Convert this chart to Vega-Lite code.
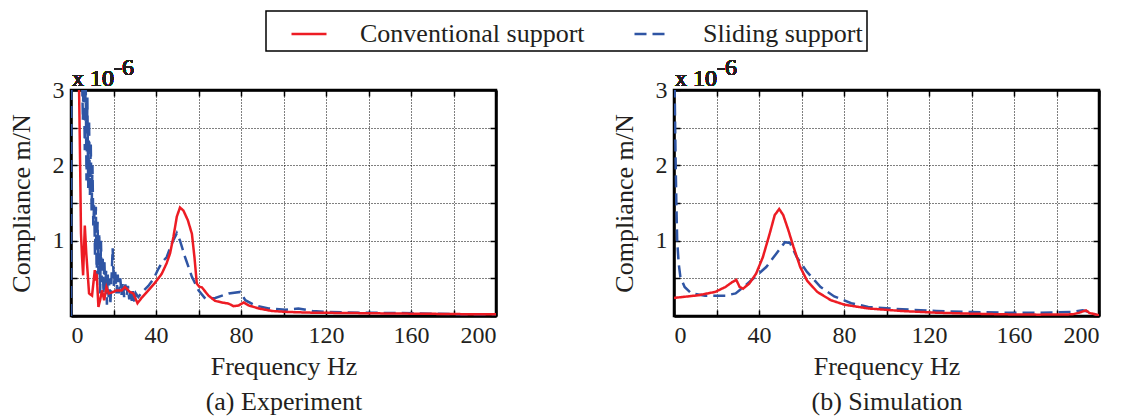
{
  "$schema": "https://vega.github.io/schema/vega-lite/v6.json",
  "background": "white",
  "autosize": {"type": "pad"},
  "padding": {"left": 6, "top": 10, "right": 0, "bottom": 0},
  "config": {
    "font": "Liberation Serif",
    "view": {"stroke": "black", "strokeWidth": 2.5},
    "concat": {"spacing": 111},
    "style": {
      "guide-label": {"font": "Liberation Serif", "fontWeight": "normal"},
      "guide-title": {"font": "Liberation Serif", "fontWeight": "normal"}
    },
    "axis": {
      "labelFont": "Liberation Serif", "labelFontSize": 24, "labelColor": "#231f20",
      "titleFont": "Liberation Serif", "titleFontSize": 26, "titleFontWeight": "normal", "titleColor": "#231f20",
      "gridColor": "black", "gridDash": [1, 2], "gridWidth": 1, "gridOpacity": 1,
      "domainColor": "black", "domainWidth": 2.5,
      "tickColor": "black", "tickWidth": 1.5, "tickSize": -6, "labelPadding": 13
    },
    "legend": {
      "orient": "none", "legendX": 195, "legendY": -79, "direction": "horizontal",
      "strokeColor": "black", "strokeWidth": 1.5, "padding": 4, "fillColor": "white",
      "symbolType": "stroke", "symbolSize": 1225, "symbolStrokeWidth": 2.5, "symbolOffset": 20,
      "labelFont": "Liberation Serif", "labelFontSize": 26, "labelColor": "#231f20", "labelLimit": 500,
      "labelOffset": 32, "columnPadding": 28, "title": null
    }
  },
  "datasets": {
    "exp": [
      {"f": 0, "v": 0, "s": "Sliding support"},
      {"f": 0.2, "v": 3.5, "s": "Sliding support"},
      {"f": 5.0, "v": 3.5, "s": "Sliding support"},
      {"f": 5.6, "v": 2.6, "s": "Sliding support"},
      {"f": 6.0, "v": 3.4, "s": "Sliding support"},
      {"f": 6.5, "v": 2.2, "s": "Sliding support"},
      {"f": 6.9, "v": 3.2, "s": "Sliding support"},
      {"f": 7.3, "v": 1.8, "s": "Sliding support"},
      {"f": 7.7, "v": 2.9, "s": "Sliding support"},
      {"f": 8.1, "v": 1.7, "s": "Sliding support"},
      {"f": 8.5, "v": 2.6, "s": "Sliding support"},
      {"f": 8.9, "v": 1.6, "s": "Sliding support"},
      {"f": 9.3, "v": 2.3, "s": "Sliding support"},
      {"f": 9.7, "v": 1.4, "s": "Sliding support"},
      {"f": 10.1, "v": 2.0, "s": "Sliding support"},
      {"f": 10.5, "v": 1.2, "s": "Sliding support"},
      {"f": 10.9, "v": 1.5, "s": "Sliding support"},
      {"f": 11.3, "v": 0.8, "s": "Sliding support"},
      {"f": 11.7, "v": 1.45, "s": "Sliding support"},
      {"f": 12.1, "v": 0.5, "s": "Sliding support"},
      {"f": 12.5, "v": 1.25, "s": "Sliding support"},
      {"f": 12.9, "v": 0.55, "s": "Sliding support"},
      {"f": 13.3, "v": 1.1, "s": "Sliding support"},
      {"f": 13.7, "v": 0.3, "s": "Sliding support"},
      {"f": 14.1, "v": 1.0, "s": "Sliding support"},
      {"f": 14.5, "v": 0.45, "s": "Sliding support"},
      {"f": 14.9, "v": 0.8, "s": "Sliding support"},
      {"f": 15.3, "v": 0.3, "s": "Sliding support"},
      {"f": 15.7, "v": 0.75, "s": "Sliding support"},
      {"f": 16.1, "v": 0.35, "s": "Sliding support"},
      {"f": 16.5, "v": 0.6, "s": "Sliding support"},
      {"f": 16.9, "v": 0.15, "s": "Sliding support"},
      {"f": 17.3, "v": 0.55, "s": "Sliding support"},
      {"f": 17.7, "v": 0.25, "s": "Sliding support"},
      {"f": 18.1, "v": 0.5, "s": "Sliding support"},
      {"f": 18.5, "v": 0.15, "s": "Sliding support"},
      {"f": 19.0, "v": 0.45, "s": "Sliding support"},
      {"f": 19.6, "v": 0.9, "s": "Sliding support"},
      {"f": 20.2, "v": 0.4, "s": "Sliding support"},
      {"f": 20.8, "v": 0.6, "s": "Sliding support"},
      {"f": 21.4, "v": 0.3, "s": "Sliding support"},
      {"f": 22.0, "v": 0.55, "s": "Sliding support"},
      {"f": 22.6, "v": 0.3, "s": "Sliding support"},
      {"f": 23.2, "v": 0.5, "s": "Sliding support"},
      {"f": 23.8, "v": 0.28, "s": "Sliding support"},
      {"f": 24.4, "v": 0.45, "s": "Sliding support"},
      {"f": 25.0, "v": 0.25, "s": "Sliding support"},
      {"f": 25.6, "v": 0.42, "s": "Sliding support"},
      {"f": 26.2, "v": 0.27, "s": "Sliding support"},
      {"f": 26.8, "v": 0.4, "s": "Sliding support"},
      {"f": 27.4, "v": 0.22, "s": "Sliding support"},
      {"f": 28.0, "v": 0.36, "s": "Sliding support"},
      {"f": 28.6, "v": 0.2, "s": "Sliding support"},
      {"f": 29.2, "v": 0.33, "s": "Sliding support"},
      {"f": 29.8, "v": 0.18, "s": "Sliding support"},
      {"f": 30.5, "v": 0.3, "s": "Sliding support"},
      {"f": 31.7, "v": 0.25, "s": "Sliding support"},
      {"f": 33.5, "v": 0.32, "s": "Sliding support"},
      {"f": 36.4, "v": 0.4, "s": "Sliding support"},
      {"f": 39.0, "v": 0.5, "s": "Sliding support"},
      {"f": 41.0, "v": 0.62, "s": "Sliding support"},
      {"f": 43.0, "v": 0.72, "s": "Sliding support"},
      {"f": 45.0, "v": 0.78, "s": "Sliding support"},
      {"f": 47.4, "v": 0.96, "s": "Sliding support"},
      {"f": 49.8, "v": 1.1, "s": "Sliding support"},
      {"f": 51.3, "v": 1.0, "s": "Sliding support"},
      {"f": 53.7, "v": 0.78, "s": "Sliding support"},
      {"f": 56.9, "v": 0.52, "s": "Sliding support"},
      {"f": 60.0, "v": 0.34, "s": "Sliding support"},
      {"f": 63.2, "v": 0.23, "s": "Sliding support"},
      {"f": 67.9, "v": 0.24, "s": "Sliding support"},
      {"f": 74.2, "v": 0.3, "s": "Sliding support"},
      {"f": 79.7, "v": 0.32, "s": "Sliding support"},
      {"f": 82.0, "v": 0.21, "s": "Sliding support"},
      {"f": 86.8, "v": 0.14, "s": "Sliding support"},
      {"f": 93.0, "v": 0.1, "s": "Sliding support"},
      {"f": 101.0, "v": 0.084, "s": "Sliding support"},
      {"f": 107.0, "v": 0.1, "s": "Sliding support"},
      {"f": 113.6, "v": 0.066, "s": "Sliding support"},
      {"f": 121.0, "v": 0.053, "s": "Sliding support"},
      {"f": 137.0, "v": 0.044, "s": "Sliding support"},
      {"f": 153.0, "v": 0.04, "s": "Sliding support"},
      {"f": 168.7, "v": 0.031, "s": "Sliding support"},
      {"f": 184.0, "v": 0.022, "s": "Sliding support"},
      {"f": 200.0, "v": 0.022, "s": "Sliding support"},
      {"f": 3.0, "v": 3.5, "s": "Conventional support"},
      {"f": 3.8, "v": 3.0, "s": "Conventional support"},
      {"f": 4.3, "v": 2.0, "s": "Conventional support"},
      {"f": 4.7, "v": 1.1, "s": "Conventional support"},
      {"f": 5.2, "v": 0.78, "s": "Conventional support"},
      {"f": 5.7, "v": 0.54, "s": "Conventional support"},
      {"f": 6.5, "v": 1.2, "s": "Conventional support"},
      {"f": 7.2, "v": 0.83, "s": "Conventional support"},
      {"f": 8.5, "v": 0.3, "s": "Conventional support"},
      {"f": 9.9, "v": 0.27, "s": "Conventional support"},
      {"f": 11.2, "v": 0.61, "s": "Conventional support"},
      {"f": 11.7, "v": 0.47, "s": "Conventional support"},
      {"f": 12.1, "v": 0.56, "s": "Conventional support"},
      {"f": 12.9, "v": 0.12, "s": "Conventional support"},
      {"f": 13.7, "v": 0.21, "s": "Conventional support"},
      {"f": 14.6, "v": 0.34, "s": "Conventional support"},
      {"f": 15.6, "v": 0.21, "s": "Conventional support"},
      {"f": 16.7, "v": 0.385, "s": "Conventional support"},
      {"f": 17.8, "v": 0.3, "s": "Conventional support"},
      {"f": 19.1, "v": 0.31, "s": "Conventional support"},
      {"f": 21.4, "v": 0.34, "s": "Conventional support"},
      {"f": 23.8, "v": 0.34, "s": "Conventional support"},
      {"f": 25.4, "v": 0.385, "s": "Conventional support"},
      {"f": 27.7, "v": 0.32, "s": "Conventional support"},
      {"f": 29.3, "v": 0.3, "s": "Conventional support"},
      {"f": 31.3, "v": 0.17, "s": "Conventional support"},
      {"f": 33.2, "v": 0.24, "s": "Conventional support"},
      {"f": 36.4, "v": 0.34, "s": "Conventional support"},
      {"f": 39.5, "v": 0.44, "s": "Conventional support"},
      {"f": 42.7, "v": 0.56, "s": "Conventional support"},
      {"f": 45.0, "v": 0.7, "s": "Conventional support"},
      {"f": 46.6, "v": 0.83, "s": "Conventional support"},
      {"f": 48.2, "v": 1.05, "s": "Conventional support"},
      {"f": 49.8, "v": 1.32, "s": "Conventional support"},
      {"f": 51.3, "v": 1.44, "s": "Conventional support"},
      {"f": 52.9, "v": 1.4, "s": "Conventional support"},
      {"f": 55.0, "v": 1.27, "s": "Conventional support"},
      {"f": 56.9, "v": 1.09, "s": "Conventional support"},
      {"f": 58.1, "v": 0.78, "s": "Conventional support"},
      {"f": 59.2, "v": 0.43, "s": "Conventional support"},
      {"f": 60.3, "v": 0.39, "s": "Conventional support"},
      {"f": 61.6, "v": 0.38, "s": "Conventional support"},
      {"f": 64.7, "v": 0.27, "s": "Conventional support"},
      {"f": 67.9, "v": 0.2, "s": "Conventional support"},
      {"f": 71.0, "v": 0.18, "s": "Conventional support"},
      {"f": 74.2, "v": 0.164, "s": "Conventional support"},
      {"f": 76.5, "v": 0.13, "s": "Conventional support"},
      {"f": 78.9, "v": 0.14, "s": "Conventional support"},
      {"f": 81.3, "v": 0.18, "s": "Conventional support"},
      {"f": 83.6, "v": 0.14, "s": "Conventional support"},
      {"f": 88.4, "v": 0.1, "s": "Conventional support"},
      {"f": 94.7, "v": 0.066, "s": "Conventional support"},
      {"f": 102.5, "v": 0.053, "s": "Conventional support"},
      {"f": 113.6, "v": 0.044, "s": "Conventional support"},
      {"f": 129.3, "v": 0.04, "s": "Conventional support"},
      {"f": 145.0, "v": 0.035, "s": "Conventional support"},
      {"f": 160.8, "v": 0.031, "s": "Conventional support"},
      {"f": 176.6, "v": 0.027, "s": "Conventional support"},
      {"f": 192.3, "v": 0.022, "s": "Conventional support"},
      {"f": 200.0, "v": 0.022, "s": "Conventional support"}
    ],
    "sim": [
      {"f": 0.2, "v": 3.3, "s": "Sliding support"},
      {"f": 0.5, "v": 2.6, "s": "Sliding support"},
      {"f": 0.8, "v": 2.0, "s": "Sliding support"},
      {"f": 1.1, "v": 1.5, "s": "Sliding support"},
      {"f": 1.5, "v": 1.0, "s": "Sliding support"},
      {"f": 2.2, "v": 0.7, "s": "Sliding support"},
      {"f": 3.0, "v": 0.52, "s": "Sliding support"},
      {"f": 5.0, "v": 0.385, "s": "Sliding support"},
      {"f": 8.2, "v": 0.3, "s": "Sliding support"},
      {"f": 14.6, "v": 0.27, "s": "Sliding support"},
      {"f": 24.2, "v": 0.27, "s": "Sliding support"},
      {"f": 29.0, "v": 0.3, "s": "Sliding support"},
      {"f": 33.8, "v": 0.41, "s": "Sliding support"},
      {"f": 38.6, "v": 0.53, "s": "Sliding support"},
      {"f": 43.4, "v": 0.65, "s": "Sliding support"},
      {"f": 48.2, "v": 0.83, "s": "Sliding support"},
      {"f": 52.2, "v": 0.98, "s": "Sliding support"},
      {"f": 54.6, "v": 0.97, "s": "Sliding support"},
      {"f": 57.8, "v": 0.78, "s": "Sliding support"},
      {"f": 62.6, "v": 0.585, "s": "Sliding support"},
      {"f": 69.0, "v": 0.385, "s": "Sliding support"},
      {"f": 75.4, "v": 0.26, "s": "Sliding support"},
      {"f": 83.4, "v": 0.17, "s": "Sliding support"},
      {"f": 91.4, "v": 0.12, "s": "Sliding support"},
      {"f": 107.4, "v": 0.089, "s": "Sliding support"},
      {"f": 123.5, "v": 0.066, "s": "Sliding support"},
      {"f": 139.5, "v": 0.053, "s": "Sliding support"},
      {"f": 155.5, "v": 0.044, "s": "Sliding support"},
      {"f": 171.5, "v": 0.044, "s": "Sliding support"},
      {"f": 187.5, "v": 0.053, "s": "Sliding support"},
      {"f": 192.3, "v": 0.075, "s": "Sliding support"},
      {"f": 195.5, "v": 0.053, "s": "Sliding support"},
      {"f": 200.0, "v": 0.0, "s": "Sliding support"},
      {"f": 0.0, "v": 0.24, "s": "Conventional support"},
      {"f": 11.4, "v": 0.275, "s": "Conventional support"},
      {"f": 19.4, "v": 0.32, "s": "Conventional support"},
      {"f": 24.2, "v": 0.385, "s": "Conventional support"},
      {"f": 27.4, "v": 0.45, "s": "Conventional support"},
      {"f": 29.3, "v": 0.48, "s": "Conventional support"},
      {"f": 30.9, "v": 0.385, "s": "Conventional support"},
      {"f": 32.5, "v": 0.363, "s": "Conventional support"},
      {"f": 35.4, "v": 0.43, "s": "Conventional support"},
      {"f": 38.6, "v": 0.56, "s": "Conventional support"},
      {"f": 41.8, "v": 0.78, "s": "Conventional support"},
      {"f": 45.0, "v": 1.09, "s": "Conventional support"},
      {"f": 47.4, "v": 1.34, "s": "Conventional support"},
      {"f": 49.5, "v": 1.42, "s": "Conventional support"},
      {"f": 51.4, "v": 1.34, "s": "Conventional support"},
      {"f": 53.8, "v": 1.14, "s": "Conventional support"},
      {"f": 56.2, "v": 0.92, "s": "Conventional support"},
      {"f": 59.4, "v": 0.65, "s": "Conventional support"},
      {"f": 62.6, "v": 0.47, "s": "Conventional support"},
      {"f": 67.4, "v": 0.32, "s": "Conventional support"},
      {"f": 73.8, "v": 0.21, "s": "Conventional support"},
      {"f": 80.2, "v": 0.15, "s": "Conventional support"},
      {"f": 91.4, "v": 0.1, "s": "Conventional support"},
      {"f": 107.4, "v": 0.066, "s": "Conventional support"},
      {"f": 123.5, "v": 0.044, "s": "Conventional support"},
      {"f": 139.5, "v": 0.031, "s": "Conventional support"},
      {"f": 155.5, "v": 0.022, "s": "Conventional support"},
      {"f": 171.5, "v": 0.018, "s": "Conventional support"},
      {"f": 187.5, "v": 0.022, "s": "Conventional support"},
      {"f": 190.7, "v": 0.044, "s": "Conventional support"},
      {"f": 193.9, "v": 0.075, "s": "Conventional support"},
      {"f": 195.5, "v": 0.04, "s": "Conventional support"},
      {"f": 200.0, "v": 0.01, "s": "Conventional support"}
    ]
  },
  "hconcat": [
    {
      "width": 425, "height": 226,
      "data": {"name": "exp"},
      "layer": [
        {
          "transform": [{"filter": "datum.s == 'Sliding support'"}],
          "mark": {"type": "line", "clip": true, "strokeWidth": 2.5},
          "encoding": {
            "x": {"field": "f", "type": "quantitative", "scale": {"domain": [0, 200], "nice": false, "zero": false},
              "axis": {"values": [0,20,40,60,80,100,120,140,160,180,200], "labelExpr": "datum.value % 40 == 0 ? datum.label : ''", "title": ["Frequency  Hz", "(a) Experiment"], "titleLineHeight": 35, "grid": true, "titlePadding": 6}},
            "y": {"field": "v", "type": "quantitative", "scale": {"domain": [0, 3], "nice": false, "zero": false},
              "axis": {"values": [0,0.5,1,1.5,2,2.5,3], "labelExpr": "datum.value % 1 == 0 && datum.value > 0 ? format(datum.value, 'd') : ''", "title": "Compliance  m/N", "grid": true, "titlePadding": 18}},
            "color": {"field": "s", "type": "nominal", "scale": {"domain": ["Conventional support", "Sliding support"], "range": ["#ed1c24", "#2f55a4"]}, "legend": {"title": null}},
            "strokeDash": {"field": "s", "type": "nominal", "scale": {"domain": ["Conventional support", "Sliding support"], "range": [[1, 0], [12, 6]]}, "legend": {"title": null}}
          }
        },
        {
          "transform": [{"filter": "datum.s == 'Conventional support'"}],
          "mark": {"type": "line", "clip": true, "strokeWidth": 2.5},
          "encoding": {
            "x": {"field": "f", "type": "quantitative", "scale": {"domain": [0, 200], "nice": false, "zero": false},
              "axis": {"orient": "top", "values": [0,20,40,60,80,100,120,140,160,180,200], "labels": false, "title": null, "grid": false}},
            "y": {"field": "v", "type": "quantitative", "scale": {"domain": [0, 3], "nice": false, "zero": false},
              "axis": {"orient": "right", "values": [0,0.5,1,1.5,2,2.5,3], "labels": false, "title": null, "grid": false}},
            "color": {"field": "s", "type": "nominal", "scale": {"domain": ["Conventional support", "Sliding support"], "range": ["#ed1c24", "#2f55a4"]}, "legend": {"title": null}},
            "strokeDash": {"field": "s", "type": "nominal", "scale": {"domain": ["Conventional support", "Sliding support"], "range": [[1, 0], [12, 6]]}, "legend": {"title": null}}
          }
        },
        {
          "mark": {"type": "text", "text": "x 10", "align": "left", "baseline": "alphabetic", "dx": 1, "dy": -4, "fontSize": 24, "font": "Liberation Serif", "fontWeight": "normal", "fill": "#231f20", "clip": false},
          "encoding": {
            "x": {"datum": 0, "type": "quantitative", "axis": null},
            "y": {"datum": 3, "type": "quantitative", "axis": null}
          }
        },
        {
          "mark": {"type": "text", "text": "-6", "align": "left", "baseline": "alphabetic", "dx": 43, "dy": -15, "fontSize": 24, "font": "Liberation Serif", "fontWeight": "normal", "fill": "#231f20", "clip": false},
          "encoding": {
            "x": {"datum": 0, "type": "quantitative", "axis": null},
            "y": {"datum": 3, "type": "quantitative", "axis": null}
          }
        }
      ],
      "resolve": {"axis": {"x": "independent", "y": "independent"}}
    },
    {
      "width": 425, "height": 226,
      "data": {"name": "sim"},
      "layer": [
        {
          "transform": [{"filter": "datum.s == 'Sliding support'"}],
          "mark": {"type": "line", "clip": true, "strokeWidth": 2.5},
          "encoding": {
            "x": {"field": "f", "type": "quantitative", "scale": {"domain": [0, 200], "nice": false, "zero": false},
              "axis": {"values": [0,20,40,60,80,100,120,140,160,180,200], "labelExpr": "datum.value % 40 == 0 ? datum.label : ''", "title": ["Frequency  Hz", "(b) Simulation"], "titleLineHeight": 35, "grid": true, "titlePadding": 6}},
            "y": {"field": "v", "type": "quantitative", "scale": {"domain": [0, 3], "nice": false, "zero": false},
              "axis": {"values": [0,0.5,1,1.5,2,2.5,3], "labelExpr": "datum.value % 1 == 0 && datum.value > 0 ? format(datum.value, 'd') : ''", "title": "Compliance  m/N", "grid": true, "titlePadding": 18}},
            "color": {"field": "s", "type": "nominal", "scale": {"domain": ["Conventional support", "Sliding support"], "range": ["#ed1c24", "#2f55a4"]}, "legend": {"title": null}},
            "strokeDash": {"field": "s", "type": "nominal", "scale": {"domain": ["Conventional support", "Sliding support"], "range": [[1, 0], [12, 6]]}, "legend": {"title": null}}
          }
        },
        {
          "transform": [{"filter": "datum.s == 'Conventional support'"}],
          "mark": {"type": "line", "clip": true, "strokeWidth": 2.5},
          "encoding": {
            "x": {"field": "f", "type": "quantitative", "scale": {"domain": [0, 200], "nice": false, "zero": false},
              "axis": {"orient": "top", "values": [0,20,40,60,80,100,120,140,160,180,200], "labels": false, "title": null, "grid": false}},
            "y": {"field": "v", "type": "quantitative", "scale": {"domain": [0, 3], "nice": false, "zero": false},
              "axis": {"orient": "right", "values": [0,0.5,1,1.5,2,2.5,3], "labels": false, "title": null, "grid": false}},
            "color": {"field": "s", "type": "nominal", "scale": {"domain": ["Conventional support", "Sliding support"], "range": ["#ed1c24", "#2f55a4"]}, "legend": {"title": null}},
            "strokeDash": {"field": "s", "type": "nominal", "scale": {"domain": ["Conventional support", "Sliding support"], "range": [[1, 0], [12, 6]]}, "legend": {"title": null}}
          }
        },
        {
          "mark": {"type": "text", "text": "x 10", "align": "left", "baseline": "alphabetic", "dx": 1, "dy": -4, "fontSize": 24, "font": "Liberation Serif", "fontWeight": "normal", "fill": "#231f20", "clip": false},
          "encoding": {
            "x": {"datum": 0, "type": "quantitative", "axis": null},
            "y": {"datum": 3, "type": "quantitative", "axis": null}
          }
        },
        {
          "mark": {"type": "text", "text": "-6", "align": "left", "baseline": "alphabetic", "dx": 43, "dy": -15, "fontSize": 24, "font": "Liberation Serif", "fontWeight": "normal", "fill": "#231f20", "clip": false},
          "encoding": {
            "x": {"datum": 0, "type": "quantitative", "axis": null},
            "y": {"datum": 3, "type": "quantitative", "axis": null}
          }
        }
      ],
      "resolve": {"axis": {"x": "independent", "y": "independent"}}
    }
  ]
}
